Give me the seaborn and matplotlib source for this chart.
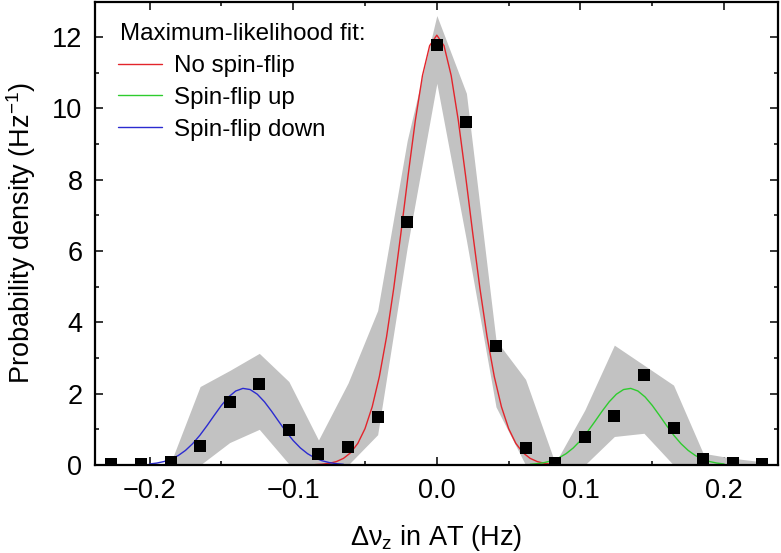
import matplotlib
matplotlib.use("Agg")
import matplotlib.pyplot as plt
from matplotlib.ticker import MultipleLocator
import seaborn as sns

# histogram of frequency jumps (bin centres in Hz) and probability density
bin_x = [-0.2266, -0.2060, -0.1854, -0.1648, -0.1442, -0.1236, -0.1030, -0.0824,
         -0.0618, -0.0412, -0.0206, 0.0, 0.0206, 0.0412, 0.0618, 0.0824,
         0.1030, 0.1236, 0.1442, 0.1648, 0.1854, 0.2060, 0.2266]
density = [0.02, 0.03, 0.09, 0.52, 1.76, 2.27, 0.99, 0.31,
           0.51, 1.35, 6.82, 11.77, 9.62, 3.34, 0.48, 0.07,
           0.79, 1.38, 2.52, 1.04, 0.16, 0.07, 0.03]

# grey confidence band (lower / upper bound per bin)
band_lo = [0, 0, 0, 0, 0.63, 1.0, 0.03, 0,
           0, 0.85, 6.1, 10.7, 6.3, 1.63, 0, 0,
           0, 0.8, 0.89, 0.0, 0, 0, 0]
band_hi = [0, 0, 0.05, 2.2, 2.65, 3.13, 2.34, 0.7,
           2.3, 4.33, 9.1, 12.6, 10.42, 3.5, 2.4, 0.05,
           1.54, 3.36, 2.8, 2.24, 0.33, 0.19, 0.09]

# maximum-likelihood fit curves
red_x = [-0.085, -0.080, -0.075, -0.070, -0.065, -0.060, -0.055, -0.050, -0.045,
         -0.040, -0.035, -0.030, -0.025, -0.020, -0.015, -0.010, -0.005, 0.000,
         0.005, 0.010, 0.015, 0.020, 0.025, 0.030, 0.035, 0.040, 0.045,
         0.050, 0.055, 0.060, 0.065, 0.070, 0.075, 0.080, 0.085]
red_y = [0.010, 0.022, 0.047, 0.095, 0.186, 0.344, 0.607, 1.020, 1.631,
         2.481, 3.593, 4.954, 6.500, 8.117, 9.649, 10.917, 11.756, 12.05,
         11.756, 10.917, 9.649, 8.117, 6.500, 4.954, 3.593, 2.481, 1.631,
         1.020, 0.607, 0.344, 0.186, 0.095, 0.047, 0.022, 0.010]

blue_x = [-0.200, -0.195, -0.190, -0.185, -0.180, -0.175, -0.170, -0.165, -0.160,
          -0.155, -0.150, -0.145, -0.140, -0.135, -0.130, -0.125, -0.120, -0.115,
          -0.110, -0.105, -0.100, -0.095, -0.090, -0.085, -0.080, -0.075, -0.070, -0.065]
blue_y = [0.029, 0.054, 0.097, 0.165, 0.266, 0.409, 0.598, 0.832, 1.103,
          1.391, 1.670, 1.908, 2.075, 2.148, 2.116, 1.985, 1.772, 1.505,
          1.217, 0.937, 0.686, 0.479, 0.318, 0.201, 0.121, 0.069, 0.038, 0.020]

green_x = [0.065, 0.070, 0.075, 0.080, 0.085, 0.090, 0.095, 0.100, 0.105,
           0.110, 0.115, 0.120, 0.125, 0.130, 0.135, 0.140, 0.145, 0.150,
           0.155, 0.160, 0.165, 0.170, 0.175, 0.180, 0.185, 0.190, 0.195, 0.200]
green_y = [0.020, 0.038, 0.069, 0.121, 0.201, 0.318, 0.479, 0.686, 0.937,
           1.217, 1.505, 1.772, 1.985, 2.116, 2.148, 2.075, 1.908, 1.670,
           1.391, 1.103, 0.832, 0.598, 0.409, 0.266, 0.165, 0.097, 0.054, 0.029]

sns.set_theme(style="ticks")
plt.rcParams["font.family"] = ["Liberation Sans", "DejaVu Sans"]
plt.rcParams["mathtext.fontset"] = "custom"
plt.rcParams["mathtext.rm"] = "Liberation Sans"
plt.rcParams["mathtext.it"] = "Liberation Sans:italic"
plt.rcParams["mathtext.default"] = "regular"
for key in ["text.color", "axes.labelcolor", "xtick.color", "ytick.color"]:
    plt.rcParams[key] = "black"

fig = plt.figure(figsize=(7.81, 5.53), dpi=100)
ax = fig.add_axes([0.1216, 0.1591, 0.8745, 0.8373])

ax.fill_between(bin_x, band_lo, band_hi, color="#c2c2c2", lw=0, zorder=1)

sns.lineplot(x=red_x, y=red_y, ax=ax, color="#e3242b", lw=1.0, sort=False,
             estimator=None, label="No spin-flip", zorder=2)
sns.lineplot(x=green_x, y=green_y, ax=ax, color="#2ecc2e", lw=1.0, sort=False,
             estimator=None, label="Spin-flip up", zorder=2)
sns.lineplot(x=blue_x, y=blue_y, ax=ax, color="#2b2bd0", lw=1.0, sort=False,
             estimator=None, label="Spin-flip down", zorder=2)

sns.scatterplot(x=bin_x, y=density, ax=ax, marker="s", color="black", s=72,
                linewidth=0, zorder=3, legend=False)

ax.set_xlim(-0.238, 0.2375)
ax.set_ylim(0, 12.98)
ax.xaxis.set_major_locator(MultipleLocator(0.1))
ax.xaxis.set_minor_locator(MultipleLocator(0.05))
ax.yaxis.set_major_locator(MultipleLocator(2))
ax.yaxis.set_minor_locator(MultipleLocator(1))

ax.tick_params(which="both", direction="in", top=True, right=True,
               width=1.1, color="black", labelsize=19.5, pad=9)
ax.tick_params(which="major", length=6)
ax.tick_params(which="minor", length=3)
for sp in ax.spines.values():
    sp.set_linewidth(1.6)
    sp.set_color("black")

ax.set_xlabel(r"$\Delta\nu_{z}$ in AT (Hz)", fontsize=19.5, labelpad=14)
ax.set_ylabel(r"Probability density (Hz$^{-1}$)", fontsize=19.5, labelpad=10)

# legend title placed by hand, entries below it
ax.text(0.0366, 0.918, "Maximum-likelihood fit:", transform=ax.transAxes,
        fontsize=17.4, ha="left", va="baseline")
handles = ax.get_lines()[:3]
ax.legend(handles=handles, labels=["No spin-flip", "Spin-flip up", "Spin-flip down"],
          fontsize=17.4, frameon=False, loc="upper left",
          bbox_to_anchor=(0.033, 0.885), borderpad=0, borderaxespad=0,
          handlelength=1.85, handletextpad=0.5, labelspacing=0.4)

fig.savefig("out.png", dpi=100)
